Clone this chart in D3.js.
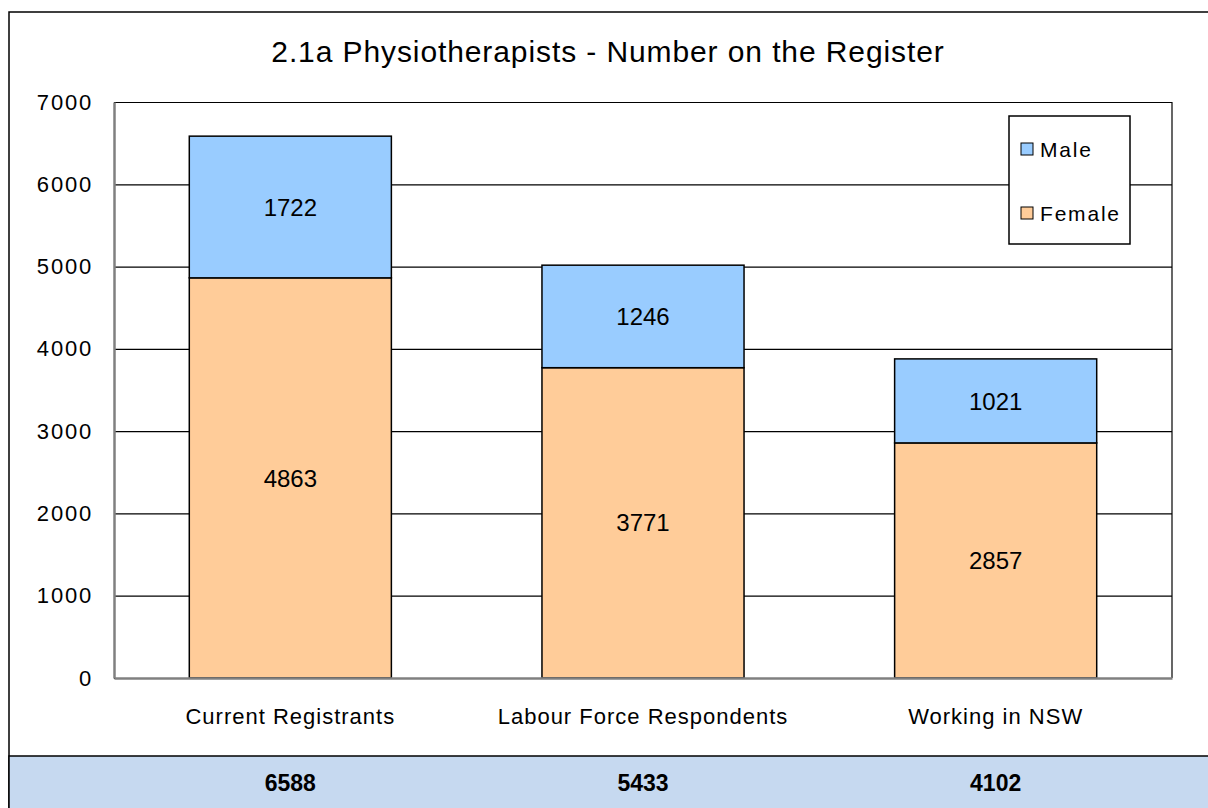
<!DOCTYPE html>
<html lang="en">
<head>
<meta charset="utf-8">
<title>2.1a Physiotherapists</title>
<script src="https://d3js.org/d3.v7.min.js"></script>
<style>
  body { margin: 0; background: #fff; }
  svg text { font-family: "Liberation Sans", Arial, sans-serif; fill: #000; }
</style>
</head>
<body>
<script>
// chart data
var categories = ["Current Registrants", "Labour Force Respondents", "Working in NSW"];
var female = [4863, 3771, 2857];
var male = [1722, 1246, 1021];
var totals = [6588, 5433, 4102];
var yTicks = [0, 1000, 2000, 3000, 4000, 5000, 6000, 7000];
var seriesNames = ["Male", "Female"];

var W = 1208, H = 808;
var svg = d3.select("body").append("svg").attr("width", W).attr("height", H);

var margin = { top: 102, left: 114, right: W - 1172, bottom: H - 678 };
var w = W - margin.left - margin.right;
var h = H - margin.top - margin.bottom;

// outer chart frame
svg.append("rect")
    .attr("x", 9).attr("y", 12)
    .attr("width", 1230).attr("height", 820)
    .attr("fill", "#fff").attr("stroke", "#000").attr("stroke-width", 1.5);

// totals band at the bottom
svg.append("rect")
    .attr("x", 9).attr("y", 756)
    .attr("width", 1230).attr("height", 80)
    .attr("fill", "#c6d9f0").attr("stroke", "#000").attr("stroke-width", 1.5);

svg.append("text")
    .attr("x", 608).attr("y", 62)
    .attr("text-anchor", "middle")
    .style("font-size", "30px")
    .style("letter-spacing", "0.9px")
    .text("2.1a Physiotherapists - Number on the Register");

var g = svg.append("g").attr("transform", "translate(" + margin.left + "," + margin.top + ")");

var x = d3.scaleBand().domain(categories).range([0, w]).paddingInner(0.427).paddingOuter(0.2135);
var y = d3.scaleLinear().domain([0, 7000]).range([h, 0]);

// gridlines
g.append("g")
    .call(d3.axisLeft(y).tickValues(yTicks).tickSize(-w).tickFormat(""))
    .call(function(a) {
        a.select(".domain").remove();
        a.selectAll("line").attr("stroke", "#000").attr("stroke-width", 1.2);
    });

// right border of plot
g.append("line")
    .attr("x1", w).attr("x2", w).attr("y1", 0).attr("y2", h)
    .attr("stroke", "#000").attr("stroke-width", 1.2);

// stacked data
var rows = categories.map(function(c, i) { return { cat: c, Female: female[i], Male: male[i] }; });
var stack = d3.stack().keys(["Female", "Male"])(rows);
var colours = { Female: "#ffcc99", Male: "#99ccff" };

stack.forEach(function(layer) {
    var lg = g.append("g");
    lg.selectAll("rect")
        .data(layer)
        .enter().append("rect")
        .attr("x", function(d) { return x(d.data.cat); })
        .attr("width", x.bandwidth())
        .attr("y", function(d) { return y(d[1]); })
        .attr("height", function(d) { return y(d[0]) - y(d[1]); })
        .attr("fill", colours[layer.key])
        .attr("stroke", "#000").attr("stroke-width", 1.5);
    lg.selectAll("text")
        .data(layer)
        .enter().append("text")
        .attr("x", function(d) { return x(d.data.cat) + x.bandwidth() / 2; })
        .attr("y", function(d) { return (y(d[0]) + y(d[1])) / 2; })
        .attr("dy", "0.36em")
        .attr("text-anchor", "middle")
        .style("font-size", "24px")
        .text(function(d) { return d.data[layer.key]; });
});

// y axis
g.append("g")
    .call(d3.axisLeft(y).tickValues(yTicks).tickSize(0).tickPadding(21).tickFormat(d3.format("d")))
    .call(function(a) {
        a.select(".domain").attr("stroke", "#808080").attr("stroke-width", 2.5);
        a.selectAll("text").style("font-size", "22px").style("letter-spacing", "1.8px")
            .style("font-family", "Liberation Sans, Arial, sans-serif");
    });

// x axis
g.append("g")
    .attr("transform", "translate(0," + h + ")")
    .call(d3.axisBottom(x).tickSize(0).tickPadding(30))
    .call(function(a) {
        a.select(".domain").attr("stroke", "#808080").attr("stroke-width", 2.5);
        a.selectAll("text").style("font-size", "22px").style("letter-spacing", "1px")
            .style("font-family", "Liberation Sans, Arial, sans-serif");
    });

// totals row
svg.append("g").selectAll("text")
    .data(totals)
    .enter().append("text")
    .attr("x", function(d, i) { return margin.left + x(categories[i]) + x.bandwidth() / 2; })
    .attr("y", 791)
    .attr("text-anchor", "middle")
    .style("font-size", "23px")
    .style("font-weight", "bold")
    .text(function(d) { return d; });

// legend
var legend = svg.append("g");
legend.append("rect")
    .attr("x", 1009).attr("y", 116).attr("width", 121).attr("height", 128)
    .attr("fill", "#fff").attr("stroke", "#000").attr("stroke-width", 1.5);
seriesNames.forEach(function(name, i) {
    var yy = 149 + i * 64;
    legend.append("rect")
        .attr("x", 1021).attr("y", yy - 6).attr("width", 12).attr("height", 12)
        .attr("fill", colours[name]).attr("stroke", "#000").attr("stroke-width", 1);
    legend.append("text")
        .attr("x", 1040).attr("y", yy).attr("dy", "0.36em")
        .style("font-size", "21px")
        .style("letter-spacing", "1.8px")
        .text(name);
});
</script>
</body>
</html>
